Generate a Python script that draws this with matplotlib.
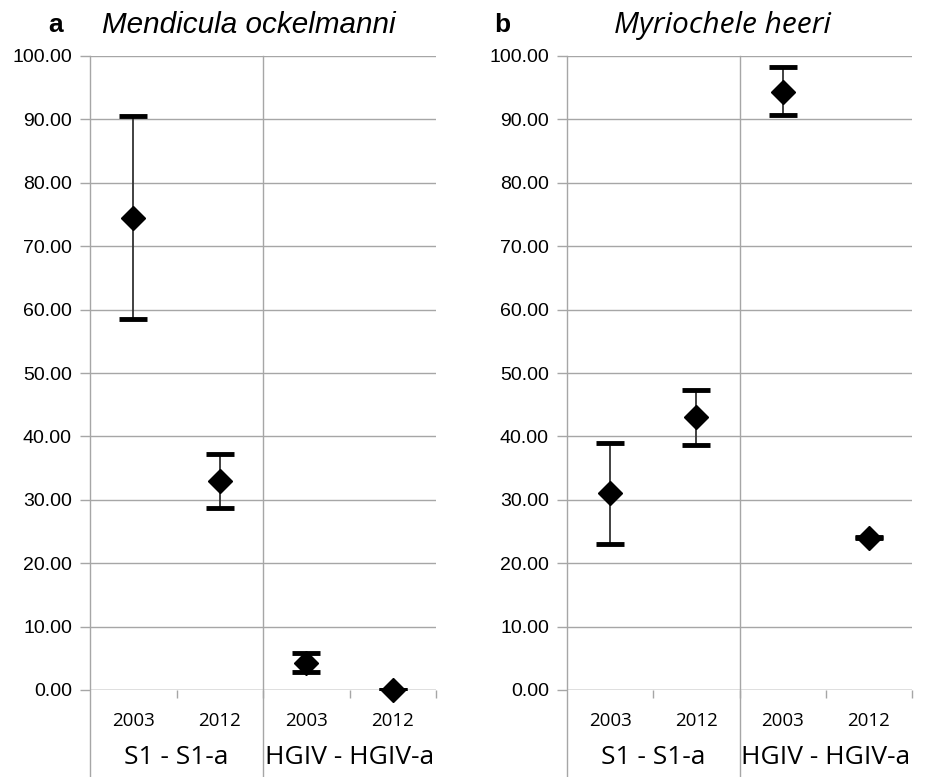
import numpy as np
import matplotlib.pyplot as plt
from matplotlib.transforms import blended_transform_factory

years = ["2003", "2012", "2003", "2012"]
groups = ["S1 - S1-a", "HGIV - HGIV-a"]

# panel a: Mendicula ockelmanni
mend_mean = [74.5, 33.0, 4.3, 0.0]
mend_low = [58.5, 28.7, 2.8, 0.0]
mend_high = [90.5, 37.3, 5.8, 0.0]

# panel b: Myriochele heeri
myr_mean = [31.0, 43.0, 94.3, 24.0]
myr_low = [23.0, 38.7, 90.7, 23.9]
myr_high = [39.0, 47.3, 98.2, 24.1]

W, H = 933, 777
fig = plt.figure(figsize=(W / 100, H / 100), dpi=100)
grid_col = "#a6a6a6"


def panel(left_px, right_px, mean, low, high):
    top_px, bot_px = 56, 690
    ax = fig.add_axes([left_px / W, 1 - bot_px / H, (right_px - left_px) / W, (bot_px - top_px) / H])
    x = np.arange(len(mean))
    mean = np.array(mean)
    err = [mean - np.array(low), np.array(high) - mean]
    _, caps, bars = ax.errorbar(x, mean, yerr=err, fmt="none", ecolor="#333333", elinewidth=1.3,
                                capsize=10, capthick=3.5, zorder=3)
    for c in caps:
        c.set_markeredgecolor("black")
        c.set_markerfacecolor("black")
    ax.plot(x, mean, linestyle="none", marker="D", markersize=12.5, color="black", zorder=4,
            clip_on=False)
    ax.set_xlim(-0.5, 3.5)
    ax.set_ylim(0, 100)
    ax.set_yticks(np.arange(0, 101, 10))
    ax.set_yticklabels([f"{v:.2f}" for v in np.arange(0, 101, 10)],
                       fontfamily="Liberation Sans", fontsize=14)
    ax.tick_params(axis="y", length=7, color=grid_col, width=1, pad=6)
    ax.set_xticks(x)
    ax.set_xticklabels(years, fontfamily="Open Sans", fontsize=13.5)
    ax.tick_params(axis="x", length=0, pad=16)
    ax.set_xticks([0.5, 1.5, 2.5, 3.5], minor=True)
    ax.tick_params(axis="x", which="minor", length=6, color=grid_col, width=1)
    ax.grid(axis="y", color=grid_col, linewidth=1)
    ax.set_axisbelow(True)
    for s in ax.spines.values():
        s.set_visible(False)
    ax.axhline(0, color=grid_col, linewidth=1, zorder=1)
    tr = blended_transform_factory(ax.transData, ax.transAxes)
    ext = -(H - bot_px) / (bot_px - top_px)
    for xv in [-0.5, 1.5]:
        ax.plot([xv, xv], [ext, 1], transform=tr, color=grid_col, linewidth=1,
                clip_on=False, zorder=1)
    for i, g in enumerate(groups):
        ax.text(0.5 + 2 * i, -0.107, g, transform=tr, ha="center", va="center",
                fontfamily="Open Sans", fontsize=19)
    return ax


panel(90, 436, mend_mean, mend_low, mend_high)
panel(567, 912, myr_mean, myr_low, myr_high)

fig.text(56 / W, 1 - 25 / H, "a", fontfamily="Liberation Sans", fontweight="bold",
         fontsize=19, ha="center", va="center")
fig.text(249 / W, 1 - 25 / H, "Mendicula ockelmanni", fontfamily="Liberation Sans",
         style="italic", fontsize=21.3, ha="center", va="center")
fig.text(502 / W, 1 - 25 / H, "b", fontfamily="Liberation Sans", fontweight="bold",
         fontsize=19, ha="center", va="center")
fig.text(722 / W, 1 - 25 / H, "Myriochele heeri", fontfamily="Open Sans",
         style="italic", fontsize=21.5, ha="center", va="center")

fig.savefig("out.png", dpi=100, facecolor="white")
